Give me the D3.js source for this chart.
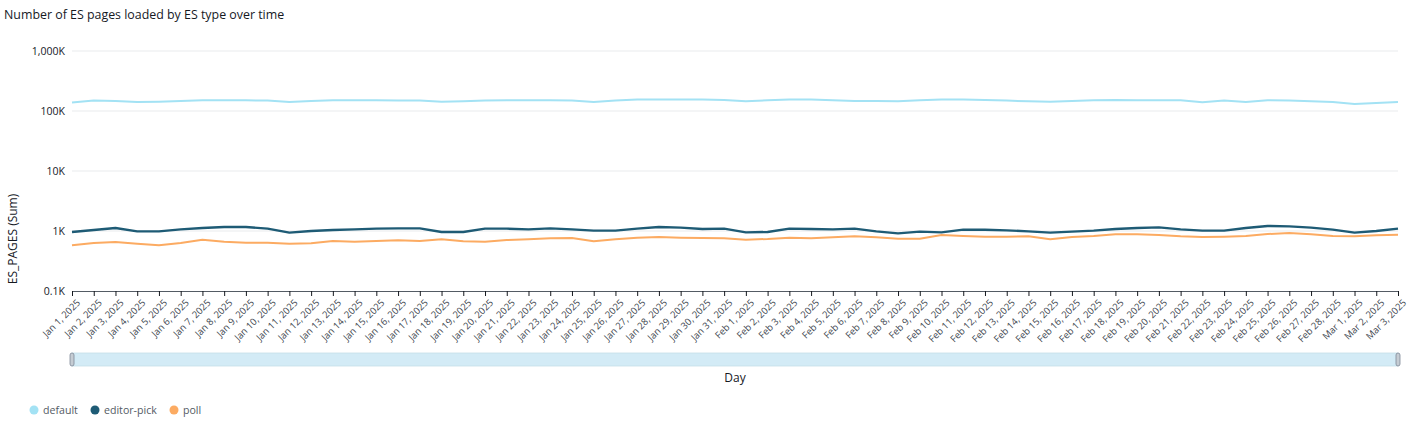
<!DOCTYPE html>
<html><head><meta charset="utf-8">
<script src="https://cdn.jsdelivr.net/npm/d3@7"></script>
<style>
html,body{margin:0;padding:0;background:#fff;}
svg{display:block;font-family:"Open Sans","Noto Sans",sans-serif;}
</style></head>
<body>
<svg id="chart" width="1412" height="443"></svg>
<script>
const days = ["Jan 1, 2025","Jan 2, 2025","Jan 3, 2025","Jan 4, 2025","Jan 5, 2025","Jan 6, 2025","Jan 7, 2025","Jan 8, 2025","Jan 9, 2025","Jan 10, 2025",
"Jan 11, 2025","Jan 12, 2025","Jan 13, 2025","Jan 14, 2025","Jan 15, 2025","Jan 16, 2025","Jan 17, 2025","Jan 18, 2025","Jan 19, 2025","Jan 20, 2025",
"Jan 21, 2025","Jan 22, 2025","Jan 23, 2025","Jan 24, 2025","Jan 25, 2025","Jan 26, 2025","Jan 27, 2025","Jan 28, 2025","Jan 29, 2025","Jan 30, 2025",
"Jan 31, 2025","Feb 1, 2025","Feb 2, 2025","Feb 3, 2025","Feb 4, 2025","Feb 5, 2025","Feb 6, 2025","Feb 7, 2025","Feb 8, 2025","Feb 9, 2025",
"Feb 10, 2025","Feb 11, 2025","Feb 12, 2025","Feb 13, 2025","Feb 14, 2025","Feb 15, 2025","Feb 16, 2025","Feb 17, 2025","Feb 18, 2025","Feb 19, 2025",
"Feb 20, 2025","Feb 21, 2025","Feb 22, 2025","Feb 23, 2025","Feb 24, 2025","Feb 25, 2025","Feb 26, 2025","Feb 27, 2025","Feb 28, 2025","Mar 1, 2025",
"Mar 2, 2025","Mar 3, 2025"];

const defaultPages = [138000,149000,147000,141000,143000,147000,151000,151000,151000,149000,
141000,147000,151000,151000,151000,149000,149000,143000,145000,149000,
151000,151000,151000,149000,141000,149000,155000,156000,156000,155000,
153000,145000,151000,156000,155000,151000,147000,147000,145000,151000,
155000,155000,153000,149000,145000,143000,147000,151000,153000,151000,
151000,151000,140000,149000,141000,151000,149000,145000,141000,131000,
136000,141000];

const editorPickPages = [962,1039,1122,987,987,1066,1122,1166,1166,1094,
938,1000,1039,1066,1094,1108,1108,962,962,1094,
1094,1066,1108,1066,1013,1013,1094,1166,1137,1080,
1094,950,962,1094,1080,1066,1094,987,914,975,
950,1052,1052,1026,987,938,975,1013,1080,1122,
1151,1066,1013,1013,1122,1212,1196,1137,1052,938,
1000,1094];

const pollPages = [577,631,656,615,577,631,717,664,639,639,
615,623,681,664,681,699,681,726,673,664,
708,726,755,765,673,726,774,794,774,765,
755,717,736,774,755,784,815,784,745,745,
858,825,805,805,815,726,794,825,880,880,
858,815,794,805,825,891,926,880,825,815,
847,869];

const yTickValues = [100, 1000, 10000, 100000, 1000000];
const yTickLabels = ["0.1K", "1K", "10K", "100K", "1,000K"];

const seriesNames = ["default", "editor-pick", "poll"];
const seriesColors = ["#a3e2f4", "#1e5b75", "#fcab62"];
const seriesValues = [defaultPages, editorPickPages, pollPages];

const svg = d3.select("#chart");
const plotLeft = 72, plotRight = 1398, plotTop = 51, plotBottom = 291;

const x = d3.scalePoint().domain(days).range([plotLeft, plotRight]);
const y = d3.scaleLog().domain([100, 1000000]).range([plotBottom, plotTop]);

// title
svg.append("text").attr("x", 4).attr("y", 19)
  .attr("font-size", 12.4).attr("fill", "#16191f")
  .text("Number of ES pages loaded by ES type over time");

// gridlines
svg.append("g").selectAll("line").data(yTickValues.slice(1)).join("line")
  .attr("x1", plotLeft).attr("x2", plotRight)
  .attr("y1", d => y(d)).attr("y2", d => y(d))
  .attr("stroke", "#e9ebed").attr("stroke-width", 1);

// y axis labels
const yAxis = d3.axisLeft(y).tickValues(yTickValues)
  .tickFormat((d, i) => yTickLabels[i]).tickSize(0).tickPadding(7);
const gy = svg.append("g").attr("transform", `translate(${plotLeft},0)`).call(yAxis);
gy.select(".domain").remove();
gy.selectAll("text").attr("font-size", 10.5).attr("fill", "#16191f")
  .attr("font-family", "'Open Sans','Noto Sans',sans-serif");

// y title
svg.append("text").attr("transform", "translate(17,239) rotate(-90)")
  .attr("text-anchor", "middle").attr("font-size", 12).attr("fill", "#16191f")
  .text("ES_PAGES (Sum)");

// x axis
const xAxis = d3.axisBottom(x).tickSize(5).tickSizeOuter(0).tickPadding(4);
const gx = svg.append("g").attr("transform", `translate(0,${plotBottom})`).call(xAxis);
gx.select(".domain").attr("stroke", "#545b64").attr("stroke-width", 1.2);
gx.selectAll(".tick line").attr("stroke", "#16191f").attr("stroke-width", 1);
gx.selectAll("text")
  .attr("font-size", 9.5).attr("fill", "#414750")
  .attr("font-family", "'Open Sans','Noto Sans',sans-serif")
  .attr("text-anchor", "end")
  .attr("transform", "rotate(-45)")
  .attr("dx", "-0.3em").attr("dy", "0.6em");

// lines
const line = d3.line().x((d, i) => x(days[i])).y(d => y(d));
svg.append("g").selectAll("path").data(seriesValues).join("path")
  .attr("d", d => line(d))
  .attr("fill", "none")
  .attr("stroke", (d, i) => seriesColors[i])
  .attr("stroke-width", (d, i) => i === 1 ? 2.4 : 2)
  .attr("stroke-linejoin", "round");

// scrollbar
svg.append("rect").attr("x", plotLeft).attr("y", 353).attr("width", plotRight - plotLeft).attr("height", 13)
  .attr("fill", "#d3ebf6").attr("stroke", "#c6dfe9").attr("stroke-width", 0.8);
[plotLeft, plotRight].forEach(px => {
  svg.append("rect").attr("x", px - 2).attr("y", 353).attr("width", 4).attr("height", 13)
    .attr("rx", 2).attr("fill", "#c5ccd3").attr("stroke", "#7d8998").attr("stroke-width", 0.8);
});

// x title
svg.append("text").attr("x", (plotLeft + plotRight) / 2).attr("y", 382)
  .attr("text-anchor", "middle").attr("font-size", 12).attr("fill", "#16191f")
  .text("Day");

// legend
const legendX = [34, 95, 174];
const lg = svg.append("g").selectAll("g").data(seriesNames).join("g")
  .attr("transform", (d, i) => `translate(${legendX[i]},410)`);
lg.append("circle").attr("r", 4.5).attr("fill", (d, i) => seriesColors[i]);
lg.append("text").attr("x", 9).attr("y", 4).attr("font-size", 10.6).attr("fill", "#545b64").text(d => d);
</script>
</body></html>
